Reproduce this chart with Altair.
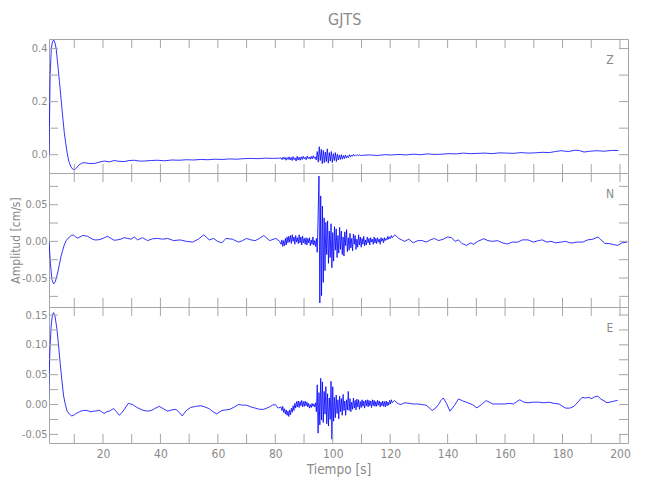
import altair as alt
import pandas as pd

# ---------------- data ----------------
# Z component
Z_PRE_T = [1.2, 1.6, 2.0, 2.4, 2.8, 3.2, 3.7, 4.2, 4.8, 5.4, 6.0, 6.5, 7.0, 7.5, 8.1, 8.8, 9.4, 10.0,
           10.8, 11.7, 12.6, 13.5, 15.0, 17.0, 18.7, 20.4, 22.2, 23.9, 25.6, 27.4, 29.1, 30.9, 32.6,
           34.4, 36.5, 39.0, 41.5, 44.0, 46.5, 49.0, 51.5, 54.0, 56.5, 59.0, 61.5, 64.0, 66.5, 69.0,
           71.5, 74.0, 76.5, 79.0, 81.5]
Z_PRE_V = [0.0, 0.30, 0.40, 0.425, 0.432, 0.425, 0.40, 0.345, 0.28, 0.21, 0.14, 0.085, 0.045, 0.008,
           -0.025, -0.045, -0.054, -0.057, -0.05, -0.038, -0.032, -0.030, -0.033, -0.033, -0.028,
           -0.024, -0.027, -0.022, -0.025, -0.026, -0.022, -0.021, -0.024, -0.024, -0.022, -0.021,
           -0.023, -0.020, -0.021, -0.019, -0.020, -0.018, -0.019, -0.017, -0.018, -0.016, -0.017,
           -0.015, -0.014, -0.015, -0.013, -0.014, -0.013]
Z_BURST_START = 82.0
Z_BURST_STEP = 0.35
Z_BURST_V = [-0.012, -0.019, -0.009, -0.017, -0.010, -0.021, -0.011, -0.018, -0.008, -0.020,
             -0.010, -0.022, -0.007, -0.019, -0.012, -0.024, -0.006, -0.020, -0.009, -0.021,
             -0.008, -0.018, -0.006, -0.016, -0.010, -0.019, -0.005, -0.015, -0.009, -0.017,
             -0.006, -0.016, -0.004, -0.014, -0.008, -0.020, 0.012, -0.028, 0.030, -0.022,
             0.020, -0.034, 0.016, -0.030, 0.010, -0.026, 0.022, -0.032, 0.008, -0.024,
             0.012, -0.030, 0.004, -0.022, 0.008, -0.026, 0.002, -0.020, -0.001, -0.018,
             0.000, -0.017, -0.003, -0.015, -0.001, -0.013, -0.004, -0.011, 0.000, -0.008,
             -0.001, -0.006, 0.001, -0.005, -0.001, -0.004, 0.000, -0.004, -0.001, -0.003]
Z_POST_T = [110.5, 113, 115.5, 118, 120.5, 123, 125.5, 128, 130.5, 133, 135.5, 138, 140.5, 143,
            145.5, 148, 150.5, 153, 155.5, 158, 160.5, 163, 165.5, 168, 170.5, 173, 175.5, 177.5,
            179.5, 182, 184.5, 186, 187.5, 189.5, 192, 194.5, 197, 199.4]
Z_POST_V = [-0.002, -0.001, -0.003, 0.000, -0.001, 0.001, -0.001, 0.002, 0.000, 0.003, 0.001,
            0.002, 0.004, 0.003, 0.006, 0.004, 0.005, 0.006, 0.004, 0.007, 0.006, 0.005, 0.008,
            0.006, 0.007, 0.009, 0.008, 0.012, 0.015, 0.012, 0.017, 0.015, 0.010, 0.013, 0.015,
            0.013, 0.016, 0.016]

# N component
N_PRE_T = [1.2, 1.7, 2.2, 2.8, 3.4, 4.2, 4.8, 5.4, 6.0, 6.5, 7.2, 8.3, 9.0, 9.7, 10.5, 11.2, 12.0,
           12.9, 13.8, 14.6, 15.8, 17.0, 18.2, 19.3, 20.5, 21.6, 22.8, 23.9, 25.0, 26.2, 27.4, 28.6,
           29.8, 30.9, 32.0, 33.8, 35.5, 37.3, 39.0, 40.8, 42.5, 44.6, 46.8, 49.0, 51.2, 53.2, 55.1,
           57.0, 58.5, 59.9, 61.4, 62.8, 65.0, 67.2, 68.6, 70.0, 71.5, 73.0, 74.5, 76.0, 78.0, 80.2,
           81.5]
N_PRE_V = [0.0, -0.030, -0.052, -0.058, -0.055, -0.043, -0.032, -0.020, -0.012, -0.005, 0.001,
           0.006, 0.008, 0.0086, 0.006, 0.0045, 0.006, 0.008, 0.0075, 0.007, 0.004, 0.002, 0.002,
           0.003, 0.005, 0.007, 0.004, 0.0015, 0.002, 0.003, 0.005, 0.004, 0.003, 0.006, 0.002,
           0.005, 0.001, 0.0035, 0.004, 0.003, 0.004, 0.001, 0.002, 0.000, -0.001, 0.003, 0.009,
           0.002, 0.004, 0.000, -0.002, 0.004, 0.003, -0.001, 0.001, 0.004, 0.002, 0.001, 0.004,
           0.008, 0.001, 0.004, 0.000]
N_BURST_START = 82.0
N_BURST_STEP = 0.3
N_BURST_V = [-0.004, 0.002, -0.007, 0.001, -0.006, 0.004, -0.005, 0.006, -0.002, 0.007,
             -0.001, 0.008, -0.003, 0.009, 0.000, 0.006, -0.004, 0.008, -0.001, 0.005,
             -0.003, 0.009, -0.002, 0.006, -0.005, 0.007, -0.002, 0.004, -0.004, 0.005,
             -0.005, 0.004, -0.002, 0.005, -0.006, 0.002, -0.004, 0.006, -0.005, 0.001,
             -0.007, 0.004, -0.015, 0.035, 0.089, -0.084, 0.062, -0.074, 0.048, -0.056,
             0.032, -0.040, 0.026, -0.018, 0.028, -0.030, 0.014, -0.022, 0.024, -0.036,
             0.012, -0.027, 0.020, -0.012, 0.017, -0.022, 0.008, -0.016, 0.019, -0.011,
             0.014, -0.018, 0.006, -0.020, 0.013, -0.006, 0.016, -0.014, 0.005, -0.012,
             0.011, -0.009, 0.004, -0.013, 0.010, -0.004, 0.008, -0.011, 0.003, -0.008,
             0.009, -0.005, 0.006, -0.008, 0.004, -0.004, 0.007, -0.006, 0.002, -0.005,
             0.006, -0.002, 0.004, -0.005, 0.005, -0.001, 0.003, -0.004, 0.006, -0.002,
             0.004, -0.003, 0.005, -0.001, 0.003, -0.004, 0.005, 0.000, 0.004, -0.002,
             0.005, 0.001, 0.004, 0.002, 0.007, 0.003, 0.006, 0.004, 0.008, 0.005]
N_POST_T = [121.6, 123.0, 125.0, 126.5, 128.0, 129.6, 131.2, 132.5, 134.0, 135.4, 136.8, 138.5,
            140.0, 141.3, 142.6, 143.8, 145.0, 146.6, 148.0, 149.0, 150.5, 152.6, 154.0, 155.7,
            157.4, 159.0, 160.9, 162.5, 164.5, 166.0, 168.0, 169.8, 171.6, 173.0, 174.5, 176.0,
            177.6, 179.5, 181.1, 182.5, 183.5, 185.0, 187.0, 188.8, 190.6, 191.5, 192.4, 193.4,
            194.8, 196.2, 197.8, 199.2, 200.7, 202.5]
N_POST_V = [0.009, 0.004, 0.000, 0.003, -0.002, 0.001, 0.001, -0.001, 0.002, 0.004, 0.001, 0.003,
            0.006, 0.005, 0.000, 0.002, -0.003, -0.0055, -0.002, -0.004, 0.000, 0.0036, 0.001,
            0.000, 0.001, -0.002, -0.0036, -0.001, -0.001, 0.002, 0.002, -0.001, 0.001, 0.002,
            -0.001, 0.000, -0.002, -0.001, 0.000, -0.002, -0.002, -0.001, -0.001, 0.002, 0.003,
            0.0045, 0.006, 0.002, -0.003, -0.003, -0.0045, -0.0055, -0.002, -0.001]

# E component
E_PRE_T = [1.0, 1.3, 1.6, 2.0, 2.4, 2.8, 3.3, 4.0, 4.5, 5.1, 5.7, 6.3, 6.9, 7.5, 8.3, 9.1, 9.8,
           10.6, 11.5, 12.3, 13.2, 14.1, 15.0, 15.8, 16.7, 17.5, 18.7, 19.5, 20.4, 21.3, 22.2,
           23.7, 24.7, 25.7, 26.5, 27.4, 28.8, 30.3, 31.2, 32.1, 33.8, 35.5, 36.8, 37.9, 39.6,
           41.0, 42.5, 44.0, 45.4, 46.5, 47.6, 49.0, 50.5, 52.3, 54.1, 55.5, 57.0, 58.3, 59.6,
           61.4, 62.8, 64.2, 65.8, 67.2, 68.6, 70.0, 71.5, 73.0, 74.5, 75.9, 77.0, 78.0, 79.0,
           80.0, 81.0]
E_PRE_V = [0.0, 0.06, 0.10, 0.135, 0.15, 0.154, 0.148, 0.125, 0.10, 0.069, 0.040, 0.014, 0.000,
           -0.011, -0.016, -0.019, -0.018, -0.015, -0.013, -0.011, -0.010, -0.0095, -0.011,
           -0.012, -0.011, -0.011, -0.0095, -0.012, -0.015, -0.012, -0.011, -0.0067, -0.012,
           -0.018, -0.014, -0.008, 0.002, 0.000, -0.003, -0.0055, -0.0095, -0.011, -0.010,
           -0.007, -0.003, -0.007, -0.011, -0.009, -0.008, -0.013, -0.019, -0.010, -0.005,
           -0.003, -0.002, -0.004, -0.007, -0.012, -0.0156, -0.010, -0.009, -0.008, -0.004,
           0.000, -0.001, -0.001, -0.004, -0.006, -0.008, -0.008, -0.006, -0.004, -0.001, 0.000,
           -0.006]
E_BURST_START = 82.0
E_BURST_STEP = 0.3
E_BURST_V = [-0.004, -0.010, -0.003, -0.013, -0.007, -0.016, -0.009, -0.018, -0.011, -0.020,
             -0.009, -0.017, -0.006, -0.013, -0.002, -0.010, 0.002, -0.006, 0.005, -0.004,
             0.006, -0.005, 0.005, -0.002, 0.007, -0.004, 0.005, -0.003, 0.006, -0.002,
             0.004, -0.004, 0.002, -0.006, 0.000, -0.005, 0.002, -0.003, 0.001, -0.004,
             0.003, -0.012, 0.033, -0.048, 0.020, -0.034, 0.044, -0.026, 0.038, -0.030,
             0.022, -0.016, 0.030, -0.032, 0.018, -0.036, 0.011, -0.025, 0.039, -0.058,
             0.030, -0.028, 0.012, -0.022, 0.016, -0.015, 0.008, -0.024, 0.014, -0.012,
             0.010, -0.018, 0.017, -0.010, 0.006, -0.018, 0.008, -0.009, 0.022, -0.010,
             0.010, -0.012, 0.004, -0.008, 0.011, -0.006, 0.007, -0.009, 0.009, -0.004,
             0.008, -0.008, 0.005, -0.005, 0.008, -0.003, 0.006, -0.006, 0.007, -0.002,
             0.008, -0.004, 0.007, -0.002, 0.006, -0.005, 0.008, -0.002, 0.007, -0.003,
             0.005, -0.003, 0.007, -0.001, 0.006, -0.004, 0.004, -0.002, 0.006, -0.003,
             0.005, -0.004, 0.006, -0.002, 0.004, -0.001, 0.007, 0.001, 0.008, 0.003]
E_POST_T = [121.5, 122.5, 123.7, 125.0, 126.6, 128.0, 129.6, 131.0, 132.5, 133.5, 134.6, 135.8,
            136.8, 137.7, 138.5, 139.6, 140.8, 142.3, 143.8, 145.3, 147.0, 148.6, 150.2, 151.8,
            153.4, 155.7, 157.8, 160.0, 161.5, 162.9, 165.1, 166.5, 168.0, 169.8, 171.6, 173.5,
            175.3, 177.0, 178.8, 180.0, 181.1, 182.5, 184.0, 185.5, 186.8, 188.0, 189.0, 190.2,
            191.2, 192.3, 193.4, 194.5, 195.5, 197.3, 199.2]
E_POST_V = [0.007, 0.002, 0.000, 0.003, 0.002, 0.001, 0.001, 0.000, -0.001, -0.005, -0.010,
            -0.006, 0.000, 0.007, 0.011, 0.002, -0.011, -0.002, 0.0094, 0.006, 0.003, 0.000,
            -0.0056, 0.000, 0.0067, 0.001, 0.001, 0.001, 0.002, 0.001, 0.008, 0.004, 0.003, 0.004,
            0.004, 0.003, 0.004, 0.002, 0.001, -0.003, -0.006, -0.006, -0.003, 0.005, 0.012,
            0.011, 0.012, 0.010, 0.013, 0.014, 0.009, 0.006, 0.003, 0.005, 0.007]

X_TICKS = [10, 20, 30, 40, 50, 60, 70, 80, 90, 100, 110, 120, 130, 140, 150, 160, 170, 180, 190, 200]
X_LABELS = [20, 40, 60, 80, 100, 120, 140, 160, 180, 200]
Z_LABELS = [0.0, 0.2, 0.4]
Z_TICKS = [0.0, 0.1, 0.2, 0.3, 0.4]
N_LABELS = [-0.05, 0.0, 0.05]
N_TICKS = [-0.075, -0.05, -0.025, 0.0, 0.025, 0.05, 0.075]
E_LABELS = [-0.05, 0.0, 0.05, 0.10, 0.15]
E_TICKS = [-0.05, -0.025, 0.0, 0.025, 0.05, 0.075, 0.10, 0.125, 0.15]

# ---------------- styling ----------------
X_DOMAIN = [1.2, 202.8]
W = 579
FONT = "DejaVu Sans Condensed, Liberation Sans Narrow, sans-serif"
TXT = "#8a8a8a"
FRAME = "#a6a6a6"
BLUE = "#0000ff"
TICK = 9


def trace(pre_t, pre_v, b_start, b_step, b_vals, post_t, post_v):
    bt = [b_start + i * b_step for i in range(len(b_vals))]
    return pd.DataFrame({"t": list(pre_t) + bt + list(post_t),
                         "v": list(pre_v) + list(b_vals) + list(post_v)})


def panel(df, comp, ydom, ylabels, yticks, digits, h, bottom, ytitle):
    xs = alt.Scale(domain=X_DOMAIN, nice=False, zero=False)
    ys = alt.Scale(domain=ydom, nice=False, zero=False)
    if bottom:
        xaxis = alt.Axis(values=X_LABELS, format="d", ticks=False, domain=False, grid=False,
                         labelPadding=5, labelFontSize=12, title="Tiempo [s]", titlePadding=3,
                         titleFontSize=13.5)
    else:
        xaxis = alt.Axis(values=X_LABELS, labels=False, ticks=False, domain=False, grid=False,
                         title="")
    yaxis = alt.Axis(values=ylabels, ticks=False, domain=False, grid=False,
                     labelExpr="(datum.value < 0 ? '-' : '') + format(abs(datum.value), '.%df')" % digits,
                     labelPadding=2, labelFontSize=11, title=ytitle, titlePadding=0,
                     titleFontSize=12, minExtent=27, maxExtent=27)
    line = alt.Chart(df).mark_line(color=BLUE, strokeWidth=0.8, clip=True).encode(
        x=alt.X("t:Q", scale=xs, axis=xaxis),
        y=alt.Y("v:Q", scale=ys, axis=yaxis),
    )
    xt = pd.DataFrame({"xt": X_TICKS})
    yt = pd.DataFrame({"yt": yticks})
    top_t = alt.Chart(xt).mark_rule(color=FRAME).encode(
        x=alt.X("xt:Q", scale=xs, axis=xaxis), y=alt.value(0), y2=alt.value(TICK))
    bot_t = alt.Chart(xt).mark_rule(color=FRAME).encode(
        x=alt.X("xt:Q", scale=xs, axis=xaxis), y=alt.value(h), y2=alt.value(h - TICK))
    left_t = alt.Chart(yt).mark_rule(color=FRAME).encode(
        y=alt.Y("yt:Q", scale=ys, axis=yaxis), x=alt.value(0), x2=alt.value(TICK))
    right_t = alt.Chart(yt).mark_rule(color=FRAME).encode(
        y=alt.Y("yt:Q", scale=ys, axis=yaxis), x=alt.value(W), x2=alt.value(W - TICK))
    lab = alt.Chart(pd.DataFrame({"c": [comp]})).mark_text(
        font=FONT, fontSize=12, color=TXT, align="center", baseline="middle").encode(
        text="c:N", x=alt.value(561), y=alt.value(21))
    return alt.layer(line, top_t, bot_t, left_t, right_t, lab).properties(width=W, height=h)


z_df = trace(Z_PRE_T, Z_PRE_V, Z_BURST_START, Z_BURST_STEP, Z_BURST_V, Z_POST_T, Z_POST_V)
n_df = trace(N_PRE_T, N_PRE_V, N_BURST_START, N_BURST_STEP, N_BURST_V, N_POST_T, N_POST_V)
e_df = trace(E_PRE_T, E_PRE_V, E_BURST_START, E_BURST_STEP, E_BURST_V, E_POST_T, E_POST_V)

pz = panel(z_df, "Z", [-0.069, 0.436], Z_LABELS, Z_TICKS, 1, 134, False, "")
pn = panel(n_df, "N", [-0.0895, 0.0932], N_LABELS, N_TICKS, 2, 134, False, "Amplitud  [cm/s]")
pe = panel(e_df, "E", [-0.0644, 0.1634], E_LABELS, E_TICKS, 2, 136, True, "")

chart = alt.vconcat(pz, pn, pe, spacing=0, bounds="flush").properties(
    title=alt.TitleParams("GJTS", font=FONT, fontSize=16, fontWeight="normal", color=TXT,
                          anchor="middle", dx=25, offset=10),
    padding={"left": 0, "top": 4, "right": 5, "bottom": 5},
).configure_view(stroke=FRAME, strokeWidth=1).configure_axis(
    labelFont=FONT, labelColor=TXT, titleFont=FONT, titleFontSize=12.5,
    titleColor=TXT, titleFontWeight="normal",
)

chart.save("out.html", embed_options={"renderer": "svg", "actions": False})
